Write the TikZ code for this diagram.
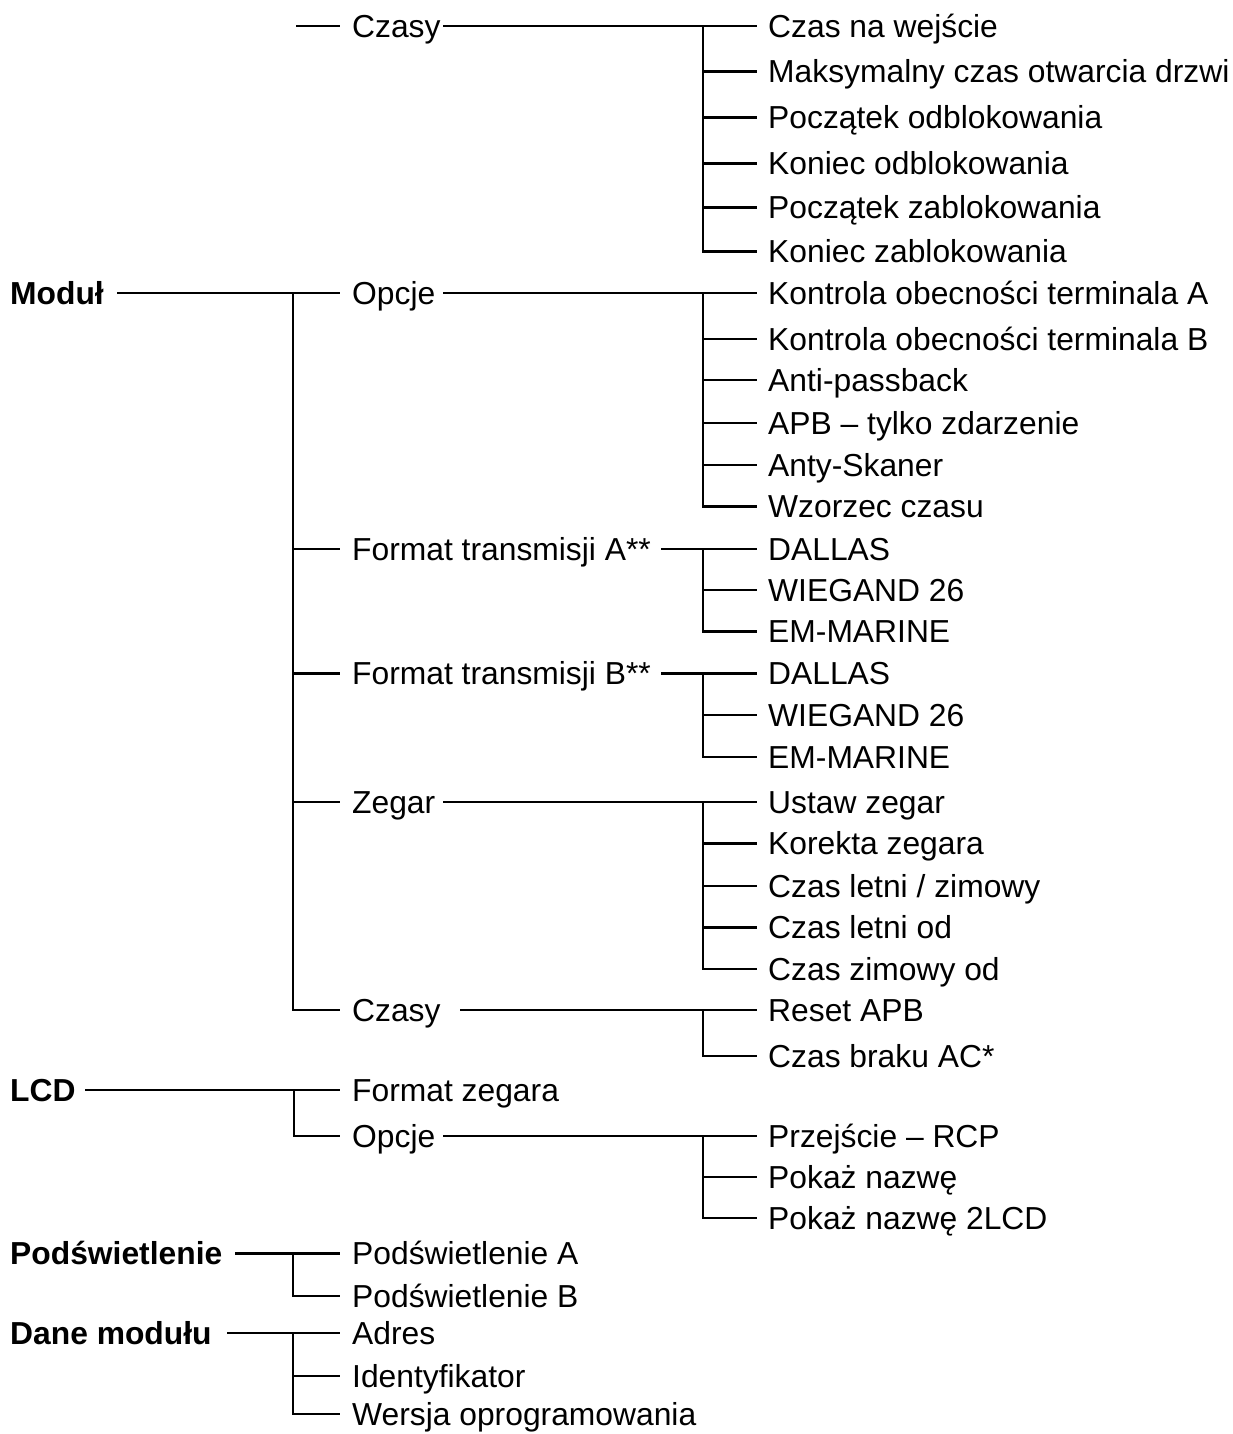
\documentclass[tikz,border=0pt]{standalone}
\usepackage{fontspec}
\setmainfont{Liberation Sans}
\begin{document}
\begin{tikzpicture}[x=1pt,y=-1pt,
  lbl/.style={anchor=west, inner sep=0pt, text height=22.8pt, text depth=0pt, font=\fontsize{31.8}{38}\selectfont},
  root/.style={lbl, font=\fontsize{31.8}{38}\selectfont\bfseries},
  conn/.style={line width=2.2pt, line cap=butt, line join=miter}]
\useasboundingbox (0,0) rectangle (1233,1434);
% roots
\node[root] (modul) at (10,293) {Moduł};
\node[root] (lcd) at (10,1090) {LCD};
\node[root] (pods) at (10,1253.5) {Podświetlenie};
\node[root] (dane) at (10,1333) {Dane modułu};
% level 2
\node[lbl] (czasyA) at (352,26) {Czasy};
\node[lbl] (opcjeA) at (352,293) {Opcje};
\node[lbl] (fmtA) at (352,549) {Format transmisji A**};
\node[lbl] (fmtB) at (352,673.5) {Format transmisji B**};
\node[lbl] (zegar) at (352,802) {Zegar};
\node[lbl] (czasyB) at (352,1010) {Czasy};
\node[lbl] (fzeg) at (352,1090) {Format zegara};
\node[lbl] (opcjeB) at (352,1136) {Opcje};
\node[lbl] (podsA) at (352,1253.5) {Podświetlenie A};
\node[lbl] (podsB) at (352,1296) {Podświetlenie B};
\node[lbl] (adres) at (352,1333) {Adres};
\node[lbl] (ident) at (352,1376) {Identyfikator};
\node[lbl] (wersja) at (352,1414) {Wersja oprogramowania};
% level 3
\node[lbl] (a1) at (768,26) {Czas na wejście};
\node[lbl] (a2) at (768,71.5) {Maksymalny czas otwarcia drzwi};
\node[lbl] (a3) at (768,117.5) {Początek odblokowania};
\node[lbl] (a4) at (768,163.5) {Koniec odblokowania};
\node[lbl] (a5) at (768,207.5) {Początek zablokowania};
\node[lbl] (a6) at (768,251.5) {Koniec zablokowania};
\node[lbl] (b1) at (768,293) {Kontrola obecności terminala A};
\node[lbl] (b2) at (768,339) {Kontrola obecności terminala B};
\node[lbl] (b3) at (768,380) {Anti-passback};
\node[lbl] (b4) at (768,423) {APB – tylko zdarzenie};
\node[lbl] (b5) at (768,465) {Anty-Skaner};
\node[lbl] (b6) at (768,506.5) {Wzorzec czasu};
\node[lbl] (f1) at (768,549) {DALLAS};
\node[lbl] (f2) at (768,590) {WIEGAND 26};
\node[lbl] (f3) at (768,631.5) {EM-MARINE};
\node[lbl] (g1) at (768,673.5) {DALLAS};
\node[lbl] (g2) at (768,715) {WIEGAND 26};
\node[lbl] (g3) at (768,757) {EM-MARINE};
\node[lbl] (z1) at (768,802) {Ustaw zegar};
\node[lbl] (z2) at (768,843.5) {Korekta zegara};
\node[lbl] (z3) at (768,886) {Czas letni / zimowy};
\node[lbl] (z4) at (768,927.5) {Czas letni od};
\node[lbl] (z5) at (768,969) {Czas zimowy od};
\node[lbl] (t1) at (768,1010) {Reset APB};
\node[lbl] (t2) at (768,1056) {Czas braku AC*};
\node[lbl] (p1) at (768,1136) {Przejście – RCP};
\node[lbl] (p2) at (768,1177) {Pokaż nazwę};
\node[lbl] (p3) at (768,1218) {Pokaż nazwę 2LCD};
% connectors: roots
\coordinate (czfree) at (296,26);
\draw[conn] (czfree) -- ([xshift=-12pt]czasyA.west);
\draw[conn] (117,0 |- modul.east) -- ([xshift=-12pt]opcjeA.west);
\draw[conn] (293,0 |- opcjeA.west) |- ([xshift=-12pt]czasyB.west);
\foreach \c in {fmtA,fmtB,zegar}
  \draw[conn] (293,0 |- \c.west) -- ([xshift=-12pt]\c.west);
\draw[conn] (85,0 |- lcd.east) -- ([xshift=-12pt]fzeg.west);
\draw[conn] (294,0 |- fzeg.west) |- ([xshift=-12pt]opcjeB.west);
\draw[conn] (235,0 |- pods.east) -- ([xshift=-12pt]podsA.west);
\draw[conn] (293,0 |- podsA.west) |- ([xshift=-12pt]podsB.west);
\draw[conn] (227,0 |- dane.east) -- ([xshift=-12pt]adres.west);
\draw[conn] (293,0 |- adres.west) |- ([xshift=-12pt]wersja.west);
\draw[conn] (293,0 |- ident.west) -- ([xshift=-12pt]ident.west);
% connectors: level 2 -> level 3
\draw[conn] (443,0 |- czasyA.east) -- ([xshift=-11pt]a1.west);
\foreach \c in {a2,a3,a4,a5,a6}
  \draw[conn] (703,0 |- a1.west) |- ([xshift=-11pt]\c.west);
\draw[conn] (443,0 |- opcjeA.east) -- ([xshift=-11pt]b1.west);
\foreach \c in {b2,b3,b4,b5,b6}
  \draw[conn] (703,0 |- b1.west) |- ([xshift=-11pt]\c.west);
\draw[conn] (661,0 |- fmtA.east) -- ([xshift=-11pt]f1.west);
\foreach \c in {f2,f3}
  \draw[conn] (703,0 |- f1.west) |- ([xshift=-11pt]\c.west);
\draw[conn] (661,0 |- fmtB.east) -- ([xshift=-11pt]g1.west);
\foreach \c in {g2,g3}
  \draw[conn] (703,0 |- g1.west) |- ([xshift=-11pt]\c.west);
\draw[conn] (443,0 |- zegar.east) -- ([xshift=-11pt]z1.west);
\foreach \c in {z2,z3,z4,z5}
  \draw[conn] (703,0 |- z1.west) |- ([xshift=-11pt]\c.west);
\draw[conn] (460,0 |- czasyB.east) -- ([xshift=-11pt]t1.west);
\draw[conn] (703,0 |- t1.west) |- ([xshift=-11pt]t2.west);
\draw[conn] (443,0 |- opcjeB.east) -- ([xshift=-11pt]p1.west);
\foreach \c in {p2,p3}
  \draw[conn] (703,0 |- p1.west) |- ([xshift=-11pt]\c.west);
\end{tikzpicture}
\end{document}
